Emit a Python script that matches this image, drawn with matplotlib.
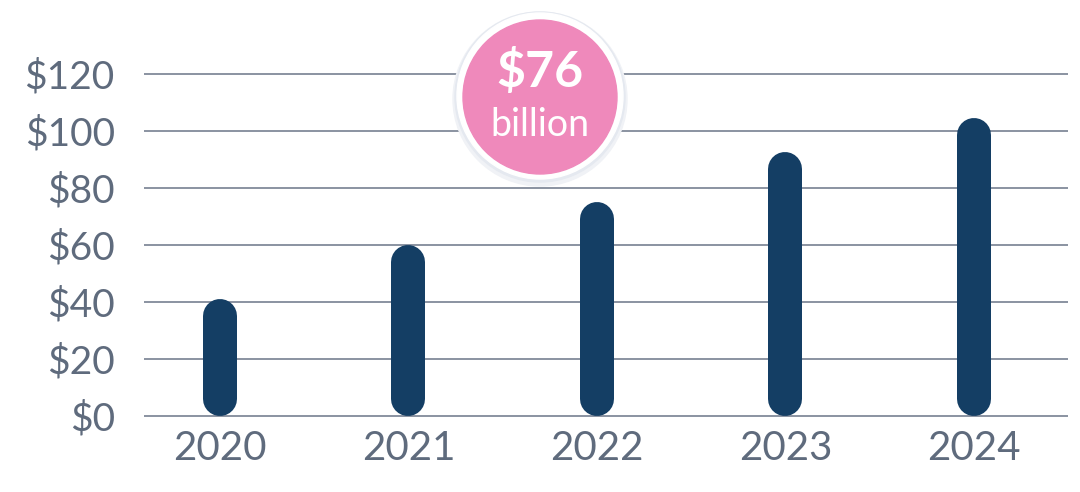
import numpy as np
import matplotlib
matplotlib.use("Agg")
import matplotlib.pyplot as plt
from matplotlib.patches import Circle

plt.rcParams['font.family'] = ['Lato', 'DejaVu Sans']

years = ["2020", "2021", "2022", "2023", "2024"]
values = [41, 60, 75, 92.5, 104.5]
yticks = [0, 20, 40, 60, 80, 100, 120]
ytick_labels = ["$0", "$20", "$40", "$60", "$80", "$100", "$120"]
callout_value = "$76"
callout_unit = "billion"

bar_color = "#143e64"
grid_color = "#6b7587"
text_color = "#5f6b7d"
pink = "#ef89bb"

fig = plt.figure(figsize=(10.8, 4.92), dpi=100)
ax = fig.add_axes([0.1333, 0.1429, 0.8556, 0.7183])
ax.set_xlim(-0.403, 4.5)
ax.set_ylim(-2, 122)

for y in yticks:
    ax.axhline(y, color=grid_color, lw=1.1, zorder=1)

# round-capped bars: convert cap radius from pixels to data units
bar_px = 34
fig.canvas.draw()
px_per_unit = ax.transData.transform((0, 1))[1] - ax.transData.transform((0, 0))[1]
r = (bar_px / 2) / px_per_unit
lw_pt = bar_px * 72 / fig.dpi
x = np.arange(len(years))
for xi, v in zip(x, values):
    ax.plot([xi, xi], [r, v - r], color=bar_color, lw=lw_pt,
            solid_capstyle="round", zorder=3)

ax.set_xticks(x)
ax.set_xticklabels(years, fontsize=29, color=text_color)
ax.set_yticks(yticks)
ax.set_yticklabels(ytick_labels, fontsize=28, color=text_color)
ax.tick_params(axis="both", length=0)
ax.tick_params(axis="y", pad=21)
ax.tick_params(axis="x", pad=6)
for s in ax.spines.values():
    s.set_visible(False)

# callout bubble
cx, cy = 5.40, 3.95
tr = fig.dpi_scale_trans
fig.patches.append(Circle((cx, cy - 0.02), 0.87, transform=tr, color="#f0f2f6", zorder=5))
fig.patches.append(Circle((cx, cy), 0.85, transform=tr, color="#e5e9f0", zorder=6))
fig.patches.append(Circle((cx, cy + 0.01), 0.83, transform=tr, color="white", zorder=7))
fig.patches.append(Circle((cx, cy), 0.77, transform=tr, color=pink, zorder=8))
fig.text(cx / 10.8, (cy + 0.25) / 4.92, callout_value, color="white", fontsize=36,
         fontweight="bold", ha="center", va="center", zorder=9)
fig.text(cx / 10.8, (cy - 0.28) / 4.92, callout_unit, color="white", fontsize=27,
         ha="center", va="center", zorder=9)

fig.savefig("out.png", dpi=100)
